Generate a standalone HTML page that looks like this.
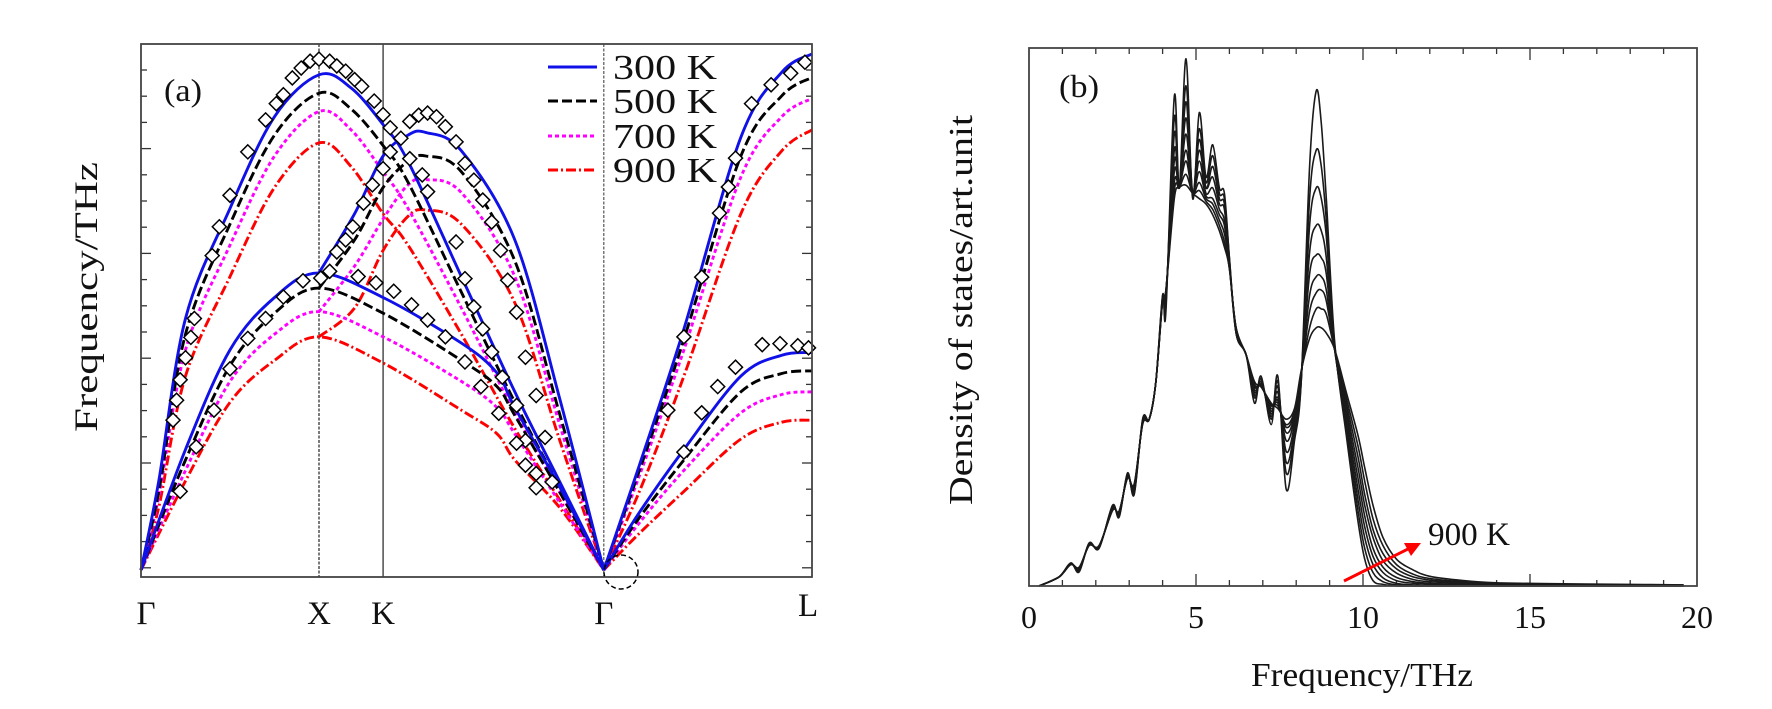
<!DOCTYPE html>
<html><head><meta charset="utf-8"><style>
html,body{margin:0;padding:0;background:#fff;}
svg{display:block;font-family:"Liberation Serif",serif;}
</style></head><body>
<svg id="fig" width="1772" height="709" viewBox="0 0 1772 709" xmlns="http://www.w3.org/2000/svg">
<rect x="0" y="0" width="1772" height="709" fill="#fff"/>
<g id="pa"></g>
<g id="pb"></g>
</svg>
<script>
// ---------- Panel (a) data ----------
const qA = [0,0.1,0.25,0.5,0.75,1.0,1.18,1.36,1.5,1.8,2.1,2.35,2.6];
const A300 = [0,1.7,4.8,6.9,8.65,9.45,9.2,8.5,7.8,5.6,3.4,1.7,0];
const A500 = [0,1.5,4.5,6.6,8.3,9.1,8.8,8.1,7.4,5.3,3.2,1.6,0];
const A700 = [0,1.4,4.2,6.2,7.9,8.75,8.4,7.6,6.9,5.0,3.0,1.5,0];
const A900 = [0,1.2,3.7,5.6,7.3,8.15,7.7,6.8,6.2,4.5,2.7,1.35,0];
const qB = [1.0,1.2,1.36,1.5,1.6,1.8,2.1,2.35,2.6];
const B300 = [5.67,6.8,7.9,8.3,8.35,8.0,6.3,3.3,0];
const B500 = [5.38,6.3,7.3,7.8,7.9,7.6,5.9,3.0,0];
const B700 = [4.93,5.8,6.7,7.35,7.45,7.2,5.6,2.8,0];
const B900 = [4.45,5.0,6.1,6.75,6.87,6.6,5.1,2.5,0];
const qC = [0,0.25,0.5,0.75,1.0,1.36,1.8,2.0,2.1,2.35,2.6];
const C300 = [0,2.3,4.2,5.2,5.67,5.2,4.33,3.76,3.1,1.6,0];
const C500 = [0,2.1,3.9,4.9,5.38,4.9,4.0,3.5,2.95,1.5,0];
const C700 = [0,1.9,3.6,4.5,4.93,4.45,3.6,3.1,2.6,1.3,0];
const C900 = [0,1.7,3.2,4.0,4.45,3.95,3.05,2.6,2.1,1.2,0];
const qL = [2.6,2.8,3.05,3.37,3.6,3.77];
const LU300 = [0,2.0,4.6,8.26,9.5,9.85];
const LU500 = [0,1.9,4.4,7.9,9.05,9.4];
const LU700 = [0,1.8,4.2,7.5,8.65,9.0];
const LU900 = [0,1.5,3.7,6.8,8.0,8.4];
const LL300 = [0,1.1,2.3,3.7,4.1,4.15];
const LL500 = [0,1.0,2.1,3.4,3.75,3.8];
const LL700 = [0,0.9,1.9,3.0,3.35,3.4];
const LL900 = [0,0.7,1.5,2.5,2.82,2.86];
const expQ = [0.18,0.20,0.22,0.25,0.28,0.30,0.40,0.44,0.50,0.60,0.70,0.76,0.80,0.85,0.90,0.95,1.00,1.06,1.10,1.15,1.20,1.24,1.31,1.36,1.40,1.46,1.40,1.36,1.51,1.58,1.61,
 1.51,1.56,1.61,1.66,1.71,1.77,1.82,1.87,1.92,1.97,2.02,2.06,2.11,2.16,2.22,2.27,
 1.77,1.82,1.87,1.92,1.97,2.03,2.11,2.16,2.22,2.31,
 1.10,1.15,1.19,1.25,1.30,
 0.22,0.31,0.41,0.50,0.60,0.70,0.80,0.91,1.01,1.06,1.22,1.32,1.42,1.52,1.61,1.71,1.82,1.91,2.01,2.11,2.16,2.22,
 2.96,3.05,3.15,3.25,3.30,3.34,3.43,3.54,3.65,3.73,
 3.05,3.15,3.24,3.34,3.49,3.59,3.69,3.75];
const expV = [2.86,3.24,3.63,4.05,4.44,4.8,6.0,6.55,7.15,7.98,8.59,8.9,9.07,9.39,9.58,9.71,9.75,9.71,9.62,9.52,9.36,9.23,8.95,8.69,8.44,8.24,7.98,7.66,7.85,7.54,7.22,
 8.56,8.68,8.72,8.65,8.46,8.17,7.76,7.44,7.06,6.64,6.10,5.53,4.92,4.06,3.33,2.53,
 6.26,5.56,5.02,4.6,4.16,3.68,3.14,2.47,1.84,1.68,
 6.07,6.3,6.55,7.0,7.35,
 1.5,2.35,3.05,3.84,4.42,4.8,5.21,5.52,5.57,5.7,5.6,5.48,5.32,5.06,4.77,4.45,3.97,3.5,2.99,2.42,2.0,1.57,
 3.05,4.45,5.59,6.81,7.31,7.86,8.9,9.26,9.48,9.69,
 2.25,3.0,3.5,3.87,4.3,4.32,4.28,4.24];
const symLabels = ["Γ","X","K","Γ","L"];
const symQ = [0,1.0,1.36,2.6,3.77];
const legendLabels = ["300 K","500 K","700 K","900 K"];

// ---------- Panel (b) data ----------
const freqGrid = [0.3,0.9,1.25,1.5,1.8,2.1,2.5,2.7,2.95,3.15,3.4,3.6,3.8,4.0,4.1,4.35,4.5,4.7,4.9,5.1,5.3,5.5,5.7,5.85,6.0,6.2,6.5,6.75,6.95,7.25,7.45,7.7,7.95,8.15,8.4,8.6,8.75,8.9,9.15,9.5,9.85,10.05,10.3,10.6,11,11.5,12,13,14,16,18,19.6];
const dos0 = [0,.017,.043,.026,.08,.07,.15,.128,.21,.17,.31,.31,.38,.54,.51,.91,.74,.98,.72,.88,.76,.82,.74,.73,.61,.47,.43,.34,.39,.30,.39,.18,.27,.38,.78,.92,.86,.72,.455,.28,.12,.05,.01,.003,0,0,0,0,0,0,0,0];
const dos1 = [0,.017,.042,.028,.079,.071,.148,.13,.208,.173,.308,.31,.38,.54,.52,.87,.74,.93,.73,.85,.75,.80,.73,.72,.61,.47,.43,.35,.385,.31,.38,.21,.28,.38,.72,.81,.78,.68,.45,.29,.14,.07,.025,.008,.002,0,0,0,0,0,0,0];
const dos2 = [0,.017,.042,.029,.078,.072,.146,.132,.206,.176,.306,.31,.38,.535,.53,.84,.74,.90,.73,.83,.74,.78,.72,.71,.60,.47,.43,.355,.38,.315,.37,.23,.29,.385,.67,.74,.72,.65,.445,.30,.16,.09,.04,.015,.005,.002,0,0,0,0,0,0];
const dos3 = [0,.017,.041,.03,.077,.073,.145,.134,.205,.179,.305,.31,.38,.535,.535,.81,.74,.87,.73,.81,.74,.76,.71,.70,.60,.475,.43,.36,.38,.32,.36,.25,.30,.39,.62,.67,.66,.61,.44,.31,.18,.11,.055,.025,.01,.005,.003,.002,.001,.001,0,0];
const dos4 = [0,.017,.041,.031,.077,.073,.144,.136,.204,.182,.304,.31,.38,.533,.54,.79,.74,.84,.73,.79,.73,.74,.70,.68,.60,.475,.43,.365,.375,.325,.35,.27,.31,.39,.58,.615,.61,.58,.44,.32,.20,.13,.07,.035,.016,.008,.005,.003,.002,.001,.001,.001];
const dos5 = [0,.017,.041,.032,.076,.074,.143,.137,.203,.184,.303,.31,.38,.532,.545,.77,.74,.81,.73,.77,.725,.72,.69,.67,.595,.478,.43,.37,.375,.33,.345,.285,.315,.395,.54,.575,.575,.55,.44,.33,.22,.15,.09,.047,.024,.012,.008,.005,.003,.002,.001,.001];
const dos6 = [0,.017,.04,.033,.076,.074,.142,.138,.202,.186,.302,.31,.38,.531,.548,.75,.74,.79,.73,.75,.72,.71,.68,.655,.595,.479,.43,.372,.372,.335,.34,.295,.32,.395,.51,.545,.55,.53,.44,.34,.24,.17,.105,.06,.032,.017,.011,.006,.004,.002,.002,.001];
const dos7 = [0,.017,.04,.034,.075,.075,.141,.139,.201,.188,.301,.31,.38,.53,.55,.735,.74,.765,.73,.735,.715,.70,.67,.64,.59,.48,.43,.375,.37,.338,.335,.30,.325,.398,.48,.515,.515,.505,.44,.35,.26,.195,.125,.075,.04,.022,.014,.008,.005,.003,.002,.002];
const dos8 = [0,.017,.04,.035,.075,.075,.14,.14,.2,.19,.30,.31,.38,.53,.55,.72,.74,.745,.73,.72,.71,.69,.66,.63,.59,.48,.43,.38,.37,.34,.33,.31,.33,.40,.46,.48,.48,.47,.44,.36,.28,.22,.15,.09,.05,.03,.018,.01,.006,.004,.003,.002];
const freqTicks = [0,5,10,15,20];

const NS = "http://www.w3.org/2000/svg";
function mk(parent, tag, attrs){ const e=document.createElementNS(NS,tag); for(const k in attrs) e.setAttribute(k,attrs[k]); parent.appendChild(e); return e; }
function smoothPath(pts){
  let d = "M"+pts[0][0].toFixed(1)+","+pts[0][1].toFixed(1);
  for(let i=0;i<pts.length-1;i++){
    const p0=pts[Math.max(0,i-1)], p1=pts[i], p2=pts[i+1], p3=pts[Math.min(pts.length-1,i+2)];
    const c1=[p1[0]+(p2[0]-p0[0])/6, p1[1]+(p2[1]-p0[1])/6];
    const c2=[p2[0]-(p3[0]-p1[0])/6, p2[1]-(p3[1]-p1[1])/6];
    d+=" C"+c1[0].toFixed(1)+","+c1[1].toFixed(1)+" "+c2[0].toFixed(1)+","+c2[1].toFixed(1)+" "+p2[0].toFixed(1)+","+p2[1].toFixed(1);
  }
  return d;
}

// ---------- Panel (a) ----------
const pa = document.getElementById('pa');
const AX0=141, AX1=812, AY0=44, AY1=577;
const xq = q => AX0 + q*178;
const yv = v => 570 - v*52.4;

let el;
el = mk(pa,'line',{x1:xq(1.0),y1:AY0,x2:xq(1.0),y2:AY1,stroke:'#222','stroke-width':1.2,'stroke-dasharray':'3,1.5'});
 
el = mk(pa,'line',{x1:xq(1.36),y1:AY0,x2:xq(1.36),y2:AY1,stroke:'#222','stroke-width':1.2});
 
el = mk(pa,'line',{x1:xq(2.6),y1:AY0,x2:xq(2.6),y2:AY1,stroke:'#555','stroke-width':1.2,'stroke-dasharray':'3,1.5'});
 

for(let k=0;k<20;k++){
  const y=70+26.2*k, len=(k%4===3)?10:6;
  el = mk(pa,'line',{x1:AX0,y1:y,x2:AX0+len,y2:y,stroke:'#333','stroke-width':1.3});
   
  el = mk(pa,'line',{x1:AX1,y1:y,x2:AX1-len,y2:y,stroke:'#333','stroke-width':1.3});
   
}

const styles = {
  s300:{stroke:'#1010e8',dash:'none'},
  s500:{stroke:'#000',dash:'10,4'},
  s700:{stroke:'#ff00ff',dash:'4,3'},
  s900:{stroke:'#ff0000',dash:'10,3,2,3'}
};
function branch(qs, vs, st, name){
  const pts = qs.map((q,i)=>[xq(q), yv(vs[i])]);
  const p = mk(pa,'path',{d:smoothPath(pts),fill:'none',stroke:st.stroke,'stroke-width':2.9,'stroke-dasharray':st.dash});
  
  
}
branch(qA,A900,styles.s900,'branch-a-900k'); branch(qB,B900,styles.s900,'branch-b-900k'); branch(qC,C900,styles.s900,'branch-c-900k');
branch(qL,LU900,styles.s900,'gl-upper-900k'); branch(qL,LL900,styles.s900,'gl-lower-900k');
branch(qA,A700,styles.s700,'branch-a-700k'); branch(qB,B700,styles.s700,'branch-b-700k'); branch(qC,C700,styles.s700,'branch-c-700k');
branch(qL,LU700,styles.s700,'gl-upper-700k'); branch(qL,LL700,styles.s700,'gl-lower-700k');
branch(qA,A500,styles.s500,'branch-a-500k'); branch(qB,B500,styles.s500,'branch-b-500k'); branch(qC,C500,styles.s500,'branch-c-500k');
branch(qL,LU500,styles.s500,'gl-upper-500k'); branch(qL,LL500,styles.s500,'gl-lower-500k');
branch(qA,A300,styles.s300,'branch-a-300k'); branch(qB,B300,styles.s300,'branch-b-300k'); branch(qC,C300,styles.s300,'branch-c-300k');
branch(qL,LU300,styles.s300,'gl-upper-300k'); branch(qL,LL300,styles.s300,'gl-lower-300k');

for(let i=0;i<expQ.length;i++){
  const cx=xq(expQ[i]), cy=yv(expV[i]), r=7;
  const d = mk(pa,'path',{d:`M${cx},${cy-r} L${cx+r},${cy} L${cx},${cy+r} L${cx-r},${cy} Z`,fill:'#fff',stroke:'#000','stroke-width':1.5});
  
  
}

el = mk(pa,'ellipse',{cx:621,cy:572,rx:17,ry:17,fill:'none',stroke:'#000','stroke-width':1.5,'stroke-dasharray':'5,3'});
 

el = mk(pa,'rect',{x:AX0,y:AY0,width:AX1-AX0,height:AY1-AY0,fill:'none',stroke:'#444','stroke-width':1.8});
 

const legY=[67,101,136,170];
const legSt=[styles.s300,styles.s500,styles.s700,styles.s900];
for(let i=0;i<4;i++){
  const g = mk(pa,'g',{});
  
  
  mk(g,'line',{x1:548,y1:legY[i],x2:597,y2:legY[i],stroke:legSt[i].stroke,'stroke-width':2.9,'stroke-dasharray':legSt[i].dash});
  const t = mk(g,'text',{x:613,y:legY[i]+12,'font-size':35,fill:'#111',textLength:104,lengthAdjust:'spacingAndGlyphs'});
  t.textContent = legendLabels[i];
}

el = mk(pa,'text',{x:164,y:101,'font-size':32,fill:'#111',textLength:38,lengthAdjust:'spacingAndGlyphs'});
el.textContent='(a)';
 

for(let i=0;i<symLabels.length;i++){
  let x=xq(symQ[i]); if(i===0) x+=5; if(i===4) x-=4;
  const t = mk(pa,'text',{x:x,y:(i===4?616:624),'font-size':33,'text-anchor':'middle',fill:'#111'});
  t.textContent = symLabels[i];
  
  
}
el = mk(pa,'text',{x:0,y:0,'font-size':33,'text-anchor':'middle',fill:'#111',transform:'translate(97,297) rotate(-90)',textLength:270,lengthAdjust:'spacingAndGlyphs'});
el.textContent='Frequency/THz';
 

// ---------- Panel (b) ----------
const pb = document.getElementById('pb');
const BX0=1029, BX1=1697, BY0=48, BY1=586;
const xf = f => BX0 + f*33.4;
const yd = d => BY1 - d*538;

for(let f=1; f<20; f++){
  const len = (f%5===0)?12:6;
  el = mk(pb,'line',{x1:xf(f),y1:BY1,x2:xf(f),y2:BY1-len,stroke:'#333','stroke-width':1.3});
   
  el = mk(pb,'line',{x1:xf(f),y1:BY0,x2:xf(f),y2:BY0+len,stroke:'#333','stroke-width':1.3});
   
}
const dosSeries=[dos0,dos1,dos2,dos3,dos4,dos5,dos6,dos7,dos8];
dosSeries.forEach((s,i)=>{
  const pts = freqGrid.map((f,j)=>[xf(f), yd(s[j])]);
  const p = mk(pb,'path',{d:smoothPath(pts),fill:'none',stroke:'#1a1a1a','stroke-width':1.6});
  
  
});
el = mk(pb,'rect',{x:BX0,y:BY0,width:BX1-BX0,height:BY1-BY0,fill:'none',stroke:'#444','stroke-width':1.8});
 

freqTicks.forEach(f=>{
  const t = mk(pb,'text',{x:xf(f),y:628,'font-size':32,'text-anchor':'middle',fill:'#111'});
  t.textContent = String(f);
  
  
});
el = mk(pb,'text',{x:1362,y:686,'font-size':34,'text-anchor':'middle',fill:'#111',textLength:222,lengthAdjust:'spacingAndGlyphs'});
el.textContent='Frequency/THz';
 
el = mk(pb,'text',{x:0,y:0,'font-size':34,'text-anchor':'middle',fill:'#111',transform:'translate(972,310) rotate(-90)',textLength:390,lengthAdjust:'spacingAndGlyphs'});
el.textContent='Density of states/art.unit';
 
el = mk(pb,'text',{x:1059,y:97,'font-size':32,fill:'#111',textLength:40,lengthAdjust:'spacingAndGlyphs'});
el.textContent='(b)';
 

el = mk(pb,'line',{x1:1344,y1:581,x2:1410,y2:548,stroke:'#ff0000','stroke-width':3});
 
el = mk(pb,'path',{d:'M1421,543 L1404,543 L1411,556 Z',fill:'#ff0000'});
 
el = mk(pb,'text',{x:1428,y:545,'font-size':33,fill:'#111',textLength:82,lengthAdjust:'spacingAndGlyphs'});
el.textContent='900 K';
 
</script>
</body></html>
